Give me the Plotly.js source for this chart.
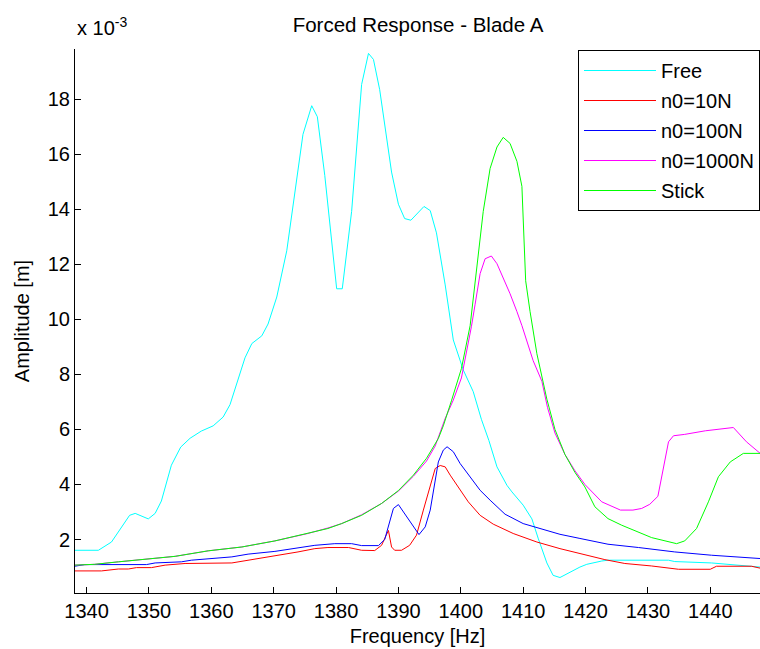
<!DOCTYPE html>
<html>
<head>
<meta charset="utf-8">
<script src="https://cdn.plot.ly/plotly-3.0.1.min.js"></script>
<style>
  html, body { margin: 0; padding: 0; background: #ffffff; }
  #chart { width: 760px; height: 649px; }
</style>
</head>
<body>
<div id="chart"></div>
<script>
// Amplitudes are in units of 1e-3 m (axis shows "x 10^-3")
const freeF = [1338.1, 1341.9, 1344.0, 1346.9, 1347.8, 1349.9, 1351.0, 1352.0, 1353.6, 1355.1, 1356.6, 1358.4, 1360.3, 1361.9, 1363.0, 1364.6, 1365.4, 1366.5, 1368.1, 1369.1, 1370.5, 1372.1, 1373.4, 1374.7, 1376.1, 1377.0, 1378.2, 1380.1, 1381.0, 1382.5, 1384.1, 1385.2, 1386.0, 1387.0, 1388.9, 1390.0, 1391.0, 1392.0, 1394.1, 1395.1, 1396.1, 1397.5, 1398.8, 1400.4, 1402.0, 1403.3, 1404.5, 1405.8, 1407.4, 1408.2, 1410.0, 1411.4, 1412.4, 1413.8, 1414.8, 1415.9, 1419.1, 1420.2, 1422.6, 1423.6, 1433.3, 1434.3, 1440.2, 1444.5, 1448.0];
const freeA = [1.61, 1.61, 1.91, 2.88, 2.95, 2.75, 2.95, 3.40, 4.70, 5.36, 5.68, 5.94, 6.13, 6.45, 6.90, 8.08, 8.60, 9.12, 9.40, 9.83, 10.81, 12.49, 14.70, 16.72, 17.76, 17.36, 15.22, 11.11, 11.11, 13.92, 18.53, 19.66, 19.44, 18.34, 15.35, 14.18, 13.66, 13.60, 14.10, 13.95, 13.14, 11.25, 9.25, 8.16, 7.37, 6.37, 5.60, 4.64, 3.97, 3.73, 3.25, 2.75, 2.05, 1.15, 0.70, 0.62, 1.00, 1.10, 1.22, 1.25, 1.25, 1.20, 1.15, 1.08, 1.00];

const n10F = [1338.1, 1342.4, 1345.1, 1346.7, 1348.0, 1350.4, 1352.6, 1355.8, 1363.3, 1365.9, 1370.2, 1373.9, 1376.6, 1378.7, 1382.0, 1384.1, 1386.2, 1387.3, 1388.4, 1388.9, 1389.4, 1390.5, 1391.8, 1392.9, 1394.0, 1395.1, 1395.9, 1396.7, 1397.5, 1398.3, 1399.6, 1401.2, 1403.1, 1405.2, 1408.4, 1412.2, 1415.9, 1419.1, 1423.1, 1426.3, 1430.6, 1434.9, 1440.0, 1441.0, 1446.6, 1448.0];
const n10A = [0.86, 0.86, 0.93, 0.93, 0.98, 0.98, 1.07, 1.13, 1.15, 1.25, 1.39, 1.55, 1.67, 1.71, 1.71, 1.61, 1.60, 1.79, 2.33, 1.73, 1.61, 1.61, 1.79, 2.16, 3.07, 3.97, 4.58, 4.69, 4.64, 4.34, 3.91, 3.37, 2.88, 2.56, 2.22, 1.91, 1.67, 1.49, 1.27, 1.13, 1.04, 0.92, 0.92, 1.03, 1.03, 0.96];

const n100F = [1338.1, 1339.7, 1349.6, 1351.0, 1355.2, 1356.8, 1363.3, 1365.9, 1370.2, 1374.5, 1376.6, 1379.8, 1382.5, 1384.1, 1386.8, 1387.8, 1389.2, 1390.0, 1393.3, 1394.3, 1395.1, 1396.4, 1397.2, 1397.8, 1398.8, 1399.9, 1401.5, 1403.1, 1404.7, 1407.1, 1410.0, 1412.7, 1415.9, 1419.1, 1423.6, 1428.5, 1434.3, 1440.2, 1446.6, 1448.0];
const n100A = [1.03, 1.09, 1.09, 1.15, 1.19, 1.25, 1.37, 1.47, 1.57, 1.73, 1.79, 1.85, 1.85, 1.78, 1.78, 2.00, 3.13, 3.27, 2.18, 2.46, 3.07, 4.82, 5.25, 5.37, 5.19, 4.76, 4.28, 3.79, 3.43, 2.92, 2.58, 2.40, 2.19, 2.04, 1.83, 1.71, 1.55, 1.43, 1.31, 1.31];

const n1000F = [1338.1, 1341.3, 1345.1, 1348.8, 1354.2, 1359.5, 1364.9, 1370.2, 1375.5, 1378.7, 1380.9, 1384.1, 1387.3, 1390.0, 1392.4, 1394.5, 1395.9, 1397.5, 1398.8, 1400.1, 1401.2, 1401.7, 1402.3, 1403.1, 1403.9, 1404.9, 1405.8, 1407.9, 1409.0, 1409.8, 1411.6, 1413.0, 1413.9, 1415.1, 1416.7, 1418.3, 1419.9, 1422.6, 1425.6, 1427.6, 1429.0, 1430.3, 1431.6, 1433.3, 1434.1, 1435.9, 1439.2, 1441.3, 1442.4, 1443.7, 1445.8, 1448.0];
const n1000A = [1.07, 1.10, 1.19, 1.27, 1.39, 1.59, 1.73, 1.95, 2.22, 2.42, 2.58, 2.90, 3.31, 3.76, 4.30, 4.85, 5.40, 6.40, 7.07, 7.87, 9.12, 9.73, 10.55, 11.66, 12.20, 12.30, 12.02, 10.93, 10.28, 9.77, 8.50, 7.75, 6.80, 5.87, 5.09, 4.50, 4.00, 3.37, 3.07, 3.07, 3.13, 3.28, 3.57, 5.55, 5.77, 5.82, 5.95, 6.00, 6.04, 6.07, 5.55, 5.13];

const stickF = [1338.1, 1341.3, 1345.1, 1348.8, 1354.2, 1359.5, 1364.9, 1370.2, 1375.5, 1378.7, 1380.9, 1384.1, 1387.3, 1390.0, 1392.4, 1394.5, 1396.4, 1397.2, 1398.5, 1400.1, 1401.5, 1402.5, 1403.6, 1404.7, 1405.8, 1406.8, 1407.9, 1409.0, 1409.8, 1410.4, 1411.1, 1412.2, 1413.8, 1415.1, 1416.7, 1418.3, 1419.9, 1421.5, 1423.6, 1425.8, 1427.7, 1430.6, 1434.6, 1435.9, 1437.8, 1439.7, 1441.3, 1443.2, 1445.3, 1448.0];
const stickA = [1.07, 1.10, 1.19, 1.27, 1.39, 1.59, 1.73, 1.95, 2.22, 2.40, 2.58, 2.88, 3.31, 3.78, 4.34, 4.95, 5.67, 6.13, 7.04, 8.21, 9.77, 11.72, 13.92, 15.48, 16.26, 16.61, 16.39, 15.74, 14.83, 11.40, 10.29, 8.75, 7.10, 6.00, 5.09, 4.44, 3.91, 3.19, 2.76, 2.52, 2.34, 2.07, 1.85, 1.95, 2.40, 3.37, 4.28, 4.82, 5.13, 5.13];

const seriesNames = ["Free", "n0=10N", "n0=100N", "n0=1000N", "Stick"];
const seriesColors = ["#00FFFF", "#FF0000", "#0000FF", "#FF00FF", "#00FF00"];
const xTicks = [1340, 1350, 1360, 1370, 1380, 1390, 1400, 1410, 1420, 1430, 1440];
const yTicks = [2, 4, 6, 8, 10, 12, 14, 16, 18];

const xs = [freeF, n10F, n100F, n1000F, stickF];
const ys = [freeA, n10A, n100A, n1000A, stickA];

const FONT = "Liberation Sans, Arial, sans-serif";

const traces = seriesNames.map((name, i) => ({
  type: "scatter",
  mode: "lines",
  name: name,
  x: xs[i],
  y: ys[i],
  legendgroup: "g" + i,
  line: { color: seriesColors[i], width: 1 }
}));

const layout = {
  width: 760,
  height: 649,
  margin: { l: 75, r: 0, t: 49, b: 56 },
  paper_bgcolor: "#ffffff",
  plot_bgcolor: "#ffffff",
  font: { family: FONT, size: 20, color: "#000000" },
  title: {
    text: "Forced Response - Blade A",
    font: { family: FONT, size: 20.5, color: "#000000" },
    x: 0.55, xref: "container", xanchor: "center",
    y: 1 - 25 / 649, yref: "container", yanchor: "middle"
  },
  xaxis: {
    range: [1338.15, 1447.97],
    tickvals: xTicks,
    ticktext: xTicks.map(String),
    ticks: "inside",
    ticklen: 6,
    tickcolor: "#000000",
    showline: true,
    linecolor: "#000000",
    linewidth: 1,
    mirror: false,
    showgrid: false,
    zeroline: false,
    tickfont: { family: FONT, size: 20, color: "#000000" },
    title: { text: "Frequency [Hz]", font: { family: FONT, size: 20, color: "#000000" }, standoff: 7 }
  },
  yaxis: {
    range: [0.058, 19.82],
    tickvals: yTicks,
    ticktext: yTicks.map(String),
    ticks: "inside",
    ticklen: 6,
    tickcolor: "#000000",
    showline: true,
    linecolor: "#000000",
    linewidth: 1,
    mirror: false,
    showgrid: false,
    zeroline: false,
    tickfont: { family: FONT, size: 20, color: "#000000" },
    title: { text: "Amplitude [m]", font: { family: FONT, size: 20, color: "#000000" }, standoff: 12 }
  },
  legend: {
    x: (578 - 75) / 685, xanchor: "left",
    y: (593 - 50) / 544, yanchor: "top",
    bgcolor: "#ffffff",
    bordercolor: "#000000",
    borderwidth: 1,
    font: { family: FONT, size: 20, color: "#000000" },
    traceorder: "grouped",
    tracegroupgap: 1,
    itemwidth: 72,
    entrywidth: 190,
    entrywidthmode: "pixels"
  },
  showlegend: true,
  annotations: [{
    text: "x 10<sup>-3</sup>",
    xref: "paper", yref: "paper",
    x: 0, y: (593 - 41) / 544,
    xanchor: "left", yanchor: "bottom",
    showarrow: false,
    font: { family: FONT, size: 20, color: "#000000" }
  }]
};

Plotly.newPlot("chart", traces, layout, { displayModeBar: false, staticPlot: true });
</script>
</body>
</html>
